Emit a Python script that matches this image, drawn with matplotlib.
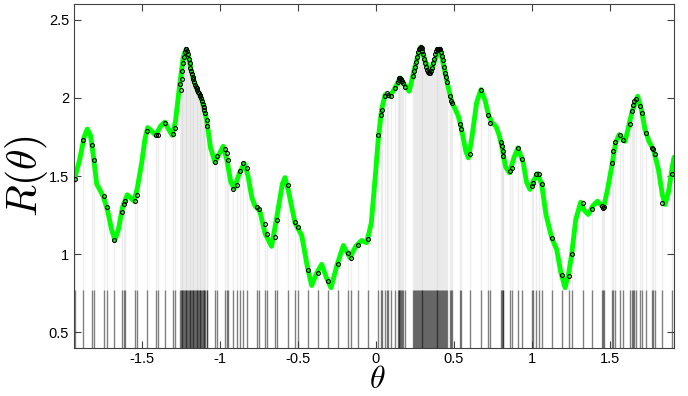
import numpy as np
import matplotlib
matplotlib.use('Agg')
import matplotlib.pyplot as plt

plt.rcParams['mathtext.fontset'] = 'cm'
plt.rcParams['axes.unicode_minus'] = False
plt.rcParams['font.family'] = ['Liberation Sans', 'DejaVu Sans']

# curve R(theta)
theta_curve = [-1.935, -1.90, -1.87, -1.85, -1.83, -1.81, -1.79, -1.748, -1.72, -1.695,
               -1.673, -1.65, -1.625, -1.594, -1.551, -1.53, -1.502, -1.48, -1.463, -1.44,
               -1.412, -1.38, -1.353, -1.33, -1.306, -1.285, -1.256, -1.235, -1.218, -1.20,
               -1.171, -1.14, -1.117, -1.10, -1.085, -1.06, -1.032, -1.005, -0.979, -0.955,
               -0.93, -0.908, -0.875, -0.844, -0.82, -0.795, -0.776, -0.744, -0.71, -0.669,
               -0.63, -0.60, -0.583, -0.56, -0.519, -0.476, -0.44, -0.412, -0.38, -0.348,
               -0.318, -0.288, -0.25, -0.209, -0.167, -0.13, -0.092, -0.06, -0.03, -0.006,
               0.015, 0.036, 0.058, 0.09, 0.122, 0.154, 0.185, 0.213, 0.25, 0.286,
               0.315, 0.346, 0.38, 0.41, 0.435, 0.46, 0.485, 0.528, 0.549, 0.575,
               0.592, 0.615, 0.645, 0.673, 0.70, 0.72, 0.745, 0.769, 0.79, 0.806,
               0.83, 0.855, 0.885, 0.91, 0.944, 0.965, 0.987, 1.01, 1.036, 1.062,
               1.09, 1.126, 1.158, 1.185, 1.212, 1.235, 1.254, 1.28, 1.312, 1.335,
               1.361, 1.39, 1.419, 1.458, 1.485, 1.511, 1.535, 1.558, 1.596, 1.615,
               1.639, 1.677, 1.70, 1.724, 1.75, 1.778, 1.81, 1.835, 1.853, 1.875,
               1.896, 1.91]
r_curve = [1.47, 1.60, 1.75, 1.80, 1.76, 1.62, 1.45, 1.37, 1.28, 1.16,
           1.09, 1.16, 1.30, 1.38, 1.34, 1.42, 1.58, 1.74, 1.81, 1.79,
           1.76, 1.82, 1.845, 1.80, 1.76, 1.85, 2.10, 2.26, 2.31, 2.25,
           2.12, 2.04, 1.99, 1.92, 1.86, 1.68, 1.59, 1.64, 1.69, 1.60,
           1.46, 1.42, 1.52, 1.58, 1.50, 1.36, 1.31, 1.275, 1.13, 1.05,
           1.27, 1.45, 1.49, 1.40, 1.20, 1.12, 0.92, 0.80, 0.88, 0.935,
           0.85, 0.786, 0.93, 1.056, 0.977, 1.05, 1.088, 1.073, 1.20, 1.48,
           1.74, 1.925, 2.02, 2.01, 2.064, 2.127, 2.08, 2.042, 2.202, 2.325,
           2.24, 2.159, 2.25, 2.313, 2.20, 2.08, 1.978, 1.882, 1.797, 1.66,
           1.616, 1.75, 1.97, 2.053, 1.98, 1.893, 1.84, 1.818, 1.76, 1.69,
           1.56, 1.52, 1.62, 1.68, 1.584, 1.46, 1.414, 1.47, 1.516, 1.446,
           1.25, 1.105, 1.03, 0.88, 0.786, 0.88, 1.0, 1.22, 1.333, 1.28,
           1.254, 1.31, 1.339, 1.297, 1.42, 1.563, 1.71, 1.765, 1.722, 1.80,
           1.904, 2.01, 1.93, 1.797, 1.72, 1.669, 1.542, 1.38, 1.318, 1.40,
           1.542, 1.62]

# sample points (circles + vertical lines)
theta_samples = [-1.931, -1.876, -1.822, -1.81, -1.744, -1.726, -1.68, -1.63, -1.615, -1.609,
                 -1.545, -1.534, -1.47, -1.41, -1.40, -1.35, -1.30, -1.29,
                 -1.256, -1.25, -1.245, -1.24, -1.235, -1.23, -1.225, -1.22, -1.215, -1.21,
                 -1.205, -1.20, -1.195, -1.19, -1.185, -1.18, -1.175, -1.17, -1.165, -1.16,
                 -1.155, -1.15, -1.145, -1.14, -1.135, -1.13, -1.125, -1.12, -1.115, -1.11,
                 -1.105, -1.10, -1.095, -1.085, -1.08, -1.03, -1.02,
                 -0.968, -0.957, -0.95, -0.915, -0.893, -0.872, -0.85, -0.829, -0.765, -0.748,
                 -0.71, -0.70, -0.647, -0.636, -0.566, -0.519, -0.502, -0.438, -0.374, -0.306,
                 -0.241, -0.177, -0.16, -0.113, -0.049,
                 0.015, 0.03, 0.036, 0.058, 0.068, 0.079, 0.094, 0.122,
                 0.14, 0.145, 0.15, 0.155, 0.16, 0.165, 0.175, 0.188,
                 0.238, 0.244, 0.25, 0.256, 0.262, 0.268, 0.274, 0.28, 0.286, 0.292,
                 0.298, 0.304, 0.31, 0.316, 0.322, 0.328, 0.334, 0.34, 0.346, 0.352,
                 0.358, 0.364, 0.37, 0.376, 0.382, 0.388, 0.394, 0.40, 0.406, 0.412,
                 0.418, 0.424, 0.43, 0.436, 0.442, 0.448, 0.454,
                 0.474, 0.481, 0.487, 0.538, 0.545, 0.605, 0.673, 0.72, 0.731,
                 0.80, 0.806, 0.812, 0.816, 0.859, 0.87, 0.908, 0.937,
                 0.998, 1.008, 1.024, 1.045, 1.062, 1.126, 1.19, 1.239, 1.258,
                 1.325, 1.382, 1.447, 1.457, 1.464, 1.515, 1.521, 1.532, 1.564, 1.585,
                 1.628, 1.643, 1.65, 1.656, 1.665, 1.692, 1.703, 1.729,
                 1.767, 1.778, 1.788, 1.831, 1.896]
r_samples = [1.48, 1.73, 1.70, 1.60, 1.37, 1.30, 1.09, 1.27, 1.32, 1.34,
             1.34, 1.38, 1.79, 1.76, 1.765, 1.84, 1.77, 1.81,
             2.09, 2.05, 2.12, 2.17, 2.22, 2.26, 2.29, 2.31, 2.31, 2.30,
             2.28, 2.25, 2.22, 2.19, 2.17, 2.15, 2.13, 2.12, 2.10, 2.08,
             2.07, 2.06, 2.05, 2.04, 2.03, 2.02, 2.01, 2.00, 1.98, 1.96,
             1.94, 1.92, 1.90, 1.86, 1.82, 1.59, 1.63,
             1.67, 1.65, 1.60, 1.42, 1.445, 1.53, 1.58, 1.55, 1.30, 1.29,
             1.19, 1.13, 1.11, 1.22, 1.445, 1.205, 1.175, 0.898, 0.88, 0.83,
             0.935, 1.01, 0.977, 1.056, 1.10,
             1.76, 1.89, 1.925, 2.01, 2.03, 2.02, 2.01, 2.064,
             2.10, 2.115, 2.125, 2.127, 2.12, 2.11, 2.095, 2.07,
             2.14, 2.17, 2.20, 2.23, 2.26, 2.29, 2.31, 2.32, 2.325, 2.32,
             2.30, 2.28, 2.25, 2.22, 2.20, 2.18, 2.165, 2.16, 2.16, 2.17,
             2.19, 2.22, 2.25, 2.28, 2.30, 2.31, 2.315, 2.315, 2.315, 2.31,
             2.29, 2.27, 2.24, 2.20, 2.16, 2.13, 2.10,
             2.01, 1.98, 1.97, 1.83, 1.80, 1.64, 2.05, 1.89, 1.84,
             1.72, 1.69, 1.66, 1.63, 1.53, 1.55, 1.68, 1.61,
             1.435, 1.457, 1.51, 1.516, 1.45, 1.105, 0.87, 0.86, 1.0,
             1.33, 1.29, 1.307, 1.297, 1.30, 1.584, 1.66, 1.72, 1.765, 1.733,
             1.83, 1.914, 1.957, 1.978, 1.993, 1.946, 1.90, 1.776,
             1.68, 1.67, 1.64, 1.33, 1.51]

rug_top = 0.77

fig = plt.figure(figsize=(6.88, 3.96), dpi=100)
ax = fig.add_axes([0.1076, 0.1212, 0.8721, 0.8687])

ax.vlines(theta_samples, rug_top, r_samples, color='#d0d0d0', alpha=0.35, lw=1.0, zorder=1)
ax.vlines(theta_samples, 0.4, rug_top, color='black', alpha=0.5, lw=1.0, zorder=1)
ax.plot(theta_curve, r_curve, color='#00ff00', lw=3.5, solid_joinstyle='round',
        solid_capstyle='round', zorder=2)
ax.plot(theta_samples, r_samples, 'o', mfc='none', mec='black', ms=2.8, mew=0.8, zorder=3)

ax.set_xlim(-1.935, 1.91)
ax.set_ylim(0.4, 2.6)
ax.set_xticks([-1.5, -1, -0.5, 0, 0.5, 1, 1.5])
ax.set_xticklabels(['-1.5', '-1', '-0.5', '0', '0.5', '1', '1.5'])
ax.set_yticks([0.5, 1, 1.5, 2, 2.5])
ax.set_yticklabels(['0.5', '1', '1.5', '2', '2.5'])
ax.tick_params(direction='in', top=True, right=True, length=5, width=0.8,
               labelsize=10.5, color='#404040')
ax.tick_params(axis='x', pad=3)
for s in ax.spines.values():
    s.set_color('#404040')
    s.set_linewidth(0.8)

ax.set_xlabel(r'$\theta$', fontsize=23)
ax.set_ylabel(r'$R(\theta)$', fontsize=30)
ax.xaxis.set_label_coords(0.505, -0.049)
ax.yaxis.set_label_coords(-0.04, 0.5)

fig.savefig('out.png', dpi=100)
